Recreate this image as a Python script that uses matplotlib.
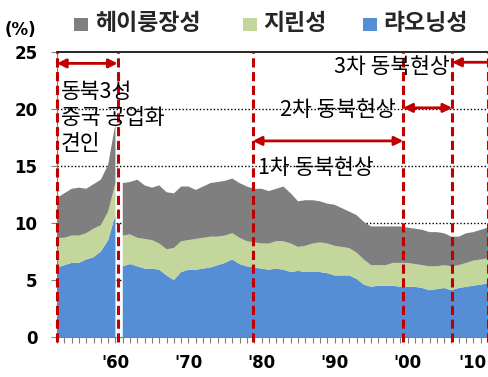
# Northeast China: share of national industrial output by province, 1952-2011
import numpy as np
import matplotlib.pyplot as plt
from matplotlib.patches import Rectangle
from matplotlib.transforms import ScaledTranslation

plt.rcParams['font.family'] = ['Noto Sans CJK KR', 'DejaVu Sans']

years = np.arange(1952, 2012)

# shares (%) by province
liaoning = [6.1, 6.3, 6.5, 6.5, 6.8, 7.0, 7.5, 8.5, 10.7,
            6.2, 6.4, 6.2, 6.0, 6.0, 5.9, 5.4, 5.0, 5.7, 5.9,
            5.9, 6.0, 6.1, 6.3, 6.5, 6.8, 6.4,
            6.2, 6.1, 6.0, 5.9, 6.0, 5.9, 5.7, 5.8, 5.7, 5.7,
            5.7, 5.6, 5.4, 5.4, 5.4, 5.1, 4.6, 4.4, 4.5, 4.5,
            4.5, 4.4, 4.4, 4.4, 4.3, 4.1, 4.2, 4.3, 4.1, 4.3,
            4.4, 4.5, 4.6, 4.7]
jilin = [2.6, 2.4, 2.4, 2.4, 2.3, 2.5, 2.3, 2.5, 2.8,
         2.7, 2.6, 2.5, 2.6, 2.5, 2.3, 2.3, 2.8, 2.7, 2.6,
         2.7, 2.7, 2.7, 2.5, 2.4, 2.3, 2.3,
         2.2, 2.2, 2.2, 2.3, 2.4, 2.5, 2.5, 2.1, 2.3, 2.5,
         2.6, 2.6, 2.6, 2.5, 2.4, 2.3, 2.2, 1.9, 1.8, 1.8,
         2.0, 2.1, 2.1, 2.0, 2.0, 2.1, 2.0, 2.0, 2.1, 2.0,
         2.1, 2.2, 2.2, 2.2]
heilongjiang = [3.5, 3.9, 4.1, 4.2, 3.9, 3.9, 4.0, 4.1, 5.2,
                4.6, 4.6, 5.1, 4.7, 4.6, 5.1, 5.0, 4.8, 4.8, 4.7,
                4.3, 4.5, 4.7, 4.8, 4.8, 4.8, 4.8,
                4.8, 4.7, 4.8, 4.6, 4.6, 4.8, 4.4, 4.0, 4.0, 3.8,
                3.6, 3.5, 3.6, 3.4, 3.2, 3.3, 3.3, 3.4, 3.4, 3.4,
                3.2, 3.2, 3.1, 3.1, 3.1, 3.0, 3.0, 2.8, 2.6, 2.5,
                2.6, 2.5, 2.6, 2.7]

# the series breaks between 1960 and 1961
segments = [(1952, 1960), (1961, 2011)]

series_names = ['헤이룽장성', '지린성', '랴오닝성']
series_colors = ['#7f7f7f', '#c3d69b', '#558ed5']

# period boundaries and labels
period_edges = [1952, 1960.3, 1978.8, 1999.4, 2006.1, 2011]
tick_years = [1960, 1970, 1980, 1990, 2000, 2010]
tick_labels = ["'60", "'70", "'80", "'90", "'00", "'10"]

red = '#c00000'

fig = plt.figure(figsize=(4.89, 3.77), dpi=100)
ax = fig.add_axes([57 / 489, 40 / 377, 431 / 489, 285 / 377])

lia = np.array(liaoning)
jil = np.array(jilin)
hei = np.array(heilongjiang)
for start, end in segments:
    m = (years >= start) & (years <= end)
    ax.stackplot(years[m], lia[m], jil[m], hei[m],
                 colors=series_colors[::-1], linewidth=0, zorder=2)

ax.set_xlim(1952, 2011)
ax.set_ylim(0, 25)

# dotted gridlines behind the areas
for g in [5, 10, 15, 20]:
    ax.axhline(g, color='black', lw=1, ls=(0, (1, 1.5)), zorder=1)

ax.set_yticks([0, 5, 10, 15, 20, 25])
ax.set_yticklabels(['0', '5', '10', '15', '20', '25'],
                   family='DejaVu Sans', fontweight='bold', fontsize=12)
ax.set_xticks(tick_years)
ax.set_xticklabels(tick_labels, family='DejaVu Sans',
                   fontweight='bold', fontsize=12)
ax.set_xticks(years, minor=True)
ax.tick_params(axis='x', which='both', direction='out', length=4,
               color='#808080', width=0.8, pad=8)
ax.tick_params(axis='y', direction='out', length=4, color='#808080',
               width=0.8, pad=10)

# keep the last year label inside the figure
last = ax.get_xticklabels()[-1]
last.set_transform(last.get_transform()
                   + ScaledTranslation(-0.08, 0, fig.dpi_scale_trans))

ax.spines['right'].set_visible(False)
ax.spines['top'].set_color('black')
ax.spines['top'].set_linewidth(1.2)
ax.spines['left'].set_color('#808080')
ax.spines['bottom'].set_color('#808080')

# period boundaries
for x in period_edges:
    ax.plot([x, x], [-0.4, 25], color=red, lw=2.2, ls=(0, (3, 1.5)),
            zorder=4, clip_on=False)


def period_arrow(x0, x1, y, style='<|-|>'):
    ax.annotate('', xy=(x1, y), xytext=(x0, y),
                arrowprops=dict(arrowstyle=style, color=red, lw=2,
                                mutation_scale=13, shrinkA=0, shrinkB=0),
                zorder=5, annotation_clip=False)


period_arrow(period_edges[0], period_edges[1], 24.0)
period_arrow(period_edges[2], period_edges[3], 17.2)
period_arrow(period_edges[3], period_edges[4], 20.1)
period_arrow(period_edges[5] + 0.2, period_edges[4], 24.1, style='-|>')

text_kw = dict(fontsize=15.5, color='black', zorder=6)
ax.text(1952.5, 19.2, '동북3성\n중국 공업화\n견인', ha='left', va='center',
        linespacing=1.25, **text_kw)
ax.text(period_edges[2] + 0.7, 14.8, '1차 동북현상', ha='left',
        va='center', **text_kw)
ax.text(period_edges[3] - 1.0, 19.9, '2차 동북현상', ha='right',
        va='center', **text_kw)
ax.text(period_edges[4] - 0.3, 23.7, '3차 동북현상', ha='right',
        va='center', **text_kw)

# unit label and legend above the plot
fig.text(5 / 489, 1 - 30 / 377, '(%)', fontsize=12, fontweight='bold',
         family='DejaVu Sans', va='center', ha='left')

legend_x = [(74, 95), (243, 263), (363, 383)]
for name, color, (xs, xt) in zip(series_names, series_colors, legend_x):
    fig.add_artist(Rectangle((xs / 489, 1 - 31 / 377), 14 / 489, 13 / 377,
                             transform=fig.transFigure, color=color,
                             lw=0))
    fig.text(xt / 489, 1 - 24 / 377, name, fontsize=16.5, fontweight='bold',
             color='#262626', va='center', ha='left')

fig.savefig('out.png', dpi=100)
